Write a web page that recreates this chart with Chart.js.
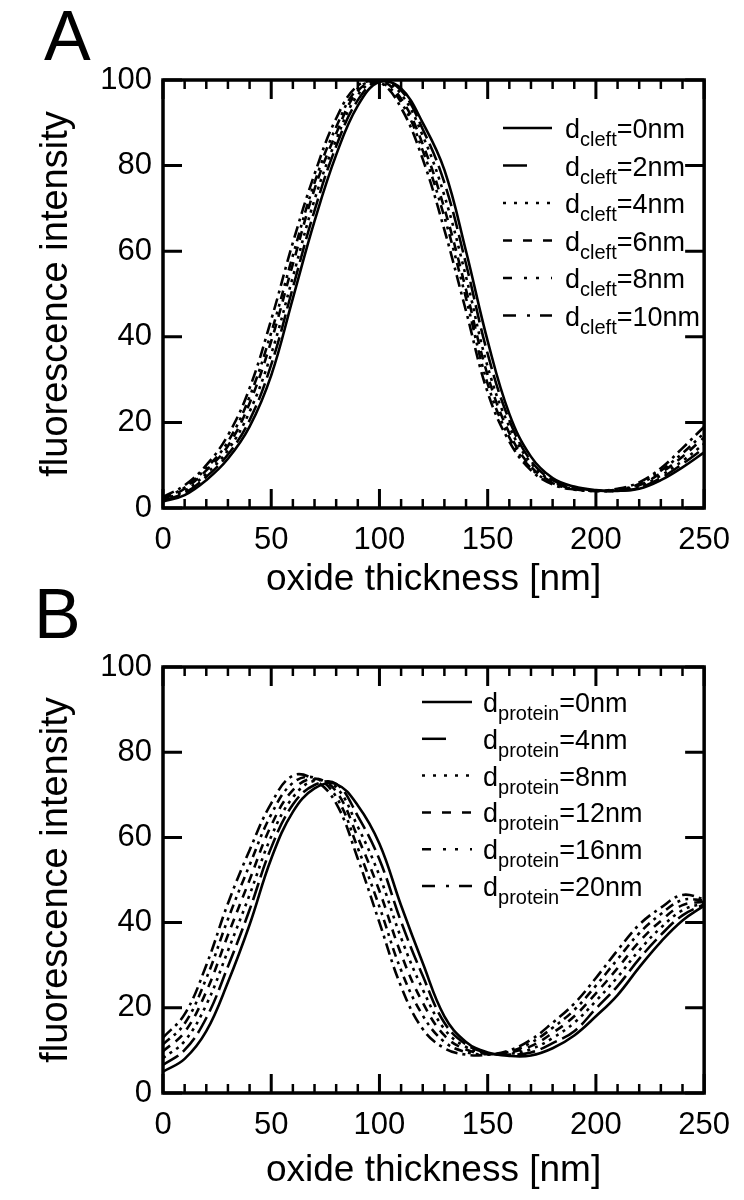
<!DOCTYPE html>
<html>
<head>
<meta charset="utf-8">
<script src="https://cdn.jsdelivr.net/npm/chart.js@4.4.1/dist/chart.umd.min.js"></script>
<style>
  body { margin: 0; background: #fff; }
  .panel { position: absolute; left: 0; width: 744px; }
</style>
</head>
<body>
<div class="panel" style="top:0;height:600px"><canvas id="chartA" width="744" height="600"></canvas></div>
<div class="panel" style="top:560px;height:640px"><canvas id="chartB" width="744" height="640"></canvas></div>
<script>
// oxide thickness [nm]
var thickness = [0,10,20,30,40,50,60,70,80,90,100,110,120,130,140,150,160,170,180,190,200,210,220,230,240,250];
var xTicks = [0,50,100,150,200,250];
var yTicks = [0,20,40,60,80,100];

// panel A, d_cleft
var cleftLabels = ['0nm','2nm','4nm','6nm','8nm','10nm'];
var cleft0  = [1.5,3,6.5,11.5,19,31,49,67,82.5,94,99.6,98,90,79,60,39,22,12,7,5,4.2,4,4.5,6.5,9.5,13];
var cleft2  = [1.7,3.5,7.3,12.5,20.5,33.5,51.5,69.5,84.5,95.3,99.9,97.6,88.5,76,57,36,20.5,11,6.5,4.8,4.1,4,4.7,7,10.3,14];
var cleft4  = [1.9,4,8,13.5,22.5,36,54,72,86,96.5,100,96.7,87,73,54,33,19,10.5,6.2,4.6,4,4.1,5,7.6,11,15];
var cleft6  = [2.1,4.5,8.8,14.5,24.5,39,57,74.5,87.5,97.4,99.9,95.6,85,70,51,31,17.5,9.7,6,4.5,4,4.2,5.3,8.2,12,16.5];
var cleft8  = [2.3,4.8,9.3,15.5,26,41,59,76,89,98,99.5,94.8,83.5,68,49,29,16.5,9.3,5.8,4.4,4,4.3,5.6,8.7,12.8,17.5];
var cleft10 = [2.6,5.3,10,17,28,44,62,78,91,98.7,99.5,93.5,81.5,65,46,27,15.5,8.8,5.5,4.3,4,4.5,6,9.3,14,19];

// panel B, d_protein
var proteinLabels = ['0nm','4nm','8nm','12nm','16nm','20nm'];
var protein0  = [5,8,14.5,26,39.5,55,66,71.5,72.5,67.5,58.5,44,30.5,18,12,9.5,8.7,8.8,10.5,13.5,18,23,29.5,35.5,40.5,44];
var protein4  = [6.6,10.1,17.6,29.7,43,57.6,67.7,72.3,72.6,65,54.8,40.2,27.5,16.5,11.4,9.4,9,9.5,11.7,14.5,19.8,25.1,31.5,37.1,41.7,44.3];
var protein8  = [8.2,12.2,20.7,33.4,46.5,60.2,69.4,73.3,71.8,62.5,51,36.4,24.3,15,10.8,9.3,9.2,10.3,12.9,16.5,21.6,27.2,33.5,38.8,42.9,44.6];
var protein12 = [9.8,14.3,23.8,37.1,50,62.8,71.1,73.8,70.8,60,47.4,32.6,21.2,13.5,10.2,9.2,9.5,11,14.1,18,23.4,29.3,35.5,40.4,44.1,44.9];
var protein16 = [11.4,16.3,26.9,40.8,53.5,65.4,72.8,74,69.5,57.5,43.7,28.8,18.2,12,9.6,9.1,9.7,11.8,15.3,19.5,25.2,31.4,37.5,42,45.3,45.2];
var protein20 = [13,18.5,30,44.5,57,68,74.5,73.5,68,55,40,25,15,10.5,9,9,10,12.5,16.5,21,27,33.5,39.5,43.5,46.5,45.5];

// line styles, same order for both panels
var dashes = [[], [18,6], [3,5], [9,7], [9,5,3,5,3,5], [12,5,3,5]];
var legendDashes = [[], [24,40], [3,8], [9,11], [9,12,3,9,3,12], [13,11,3,10]];

var FONT = "'Liberation Sans', Arial, Helvetica, sans-serif";

// inward ticks, frame, panel letter
var framePlugin = {
  id: 'frame',
  afterDatasetsDraw: function(chart, args, opts) {
    var ctx = chart.ctx;
    var a = chart.chartArea;
    var xs = chart.scales.x, ys = chart.scales.y;
    ctx.save();
    ctx.strokeStyle = '#000';
    ctx.lineCap = 'butt';
    for (var v = 0; v <= 250; v += 10) {
      var px = xs.getPixelForValue(v);
      var len = v % 50 === 0 ? 19 : 9;
      ctx.lineWidth = v % 50 === 0 ? 3 : 2.5;
      ctx.beginPath();
      ctx.moveTo(px, a.bottom); ctx.lineTo(px, a.bottom - len);
      ctx.moveTo(px, a.top); ctx.lineTo(px, a.top + len);
      ctx.stroke();
    }
    ctx.lineWidth = 3;
    yTicks.forEach(function(t) {
      var py = ys.getPixelForValue(t);
      ctx.beginPath();
      ctx.moveTo(a.left, py); ctx.lineTo(a.left + 19, py);
      ctx.moveTo(a.right, py); ctx.lineTo(a.right - 19, py);
      ctx.stroke();
    });
    ctx.lineWidth = 3.5;
    ctx.strokeRect(a.left, a.top, a.right - a.left, a.bottom - a.top);
    ctx.fillStyle = '#000';
    ctx.font = '70px ' + FONT;
    ctx.textBaseline = 'alphabetic';
    ctx.fillText(opts.letter, opts.letterX, opts.letterY);
    ctx.restore();
  }
};

// legend with subscripts
var subLegend = {
  id: 'subLegend',
  afterDatasetsDraw: function(chart, args, opts) {
    var ctx = chart.ctx;
    ctx.save();
    ctx.fillStyle = '#000';
    ctx.strokeStyle = '#000';
    chart.data.datasets.forEach(function(ds, i) {
      var y = opts.top + i * opts.step;
      ctx.lineWidth = 2.5;
      ctx.setLineDash(legendDashes[i]);
      ctx.beginPath();
      ctx.moveTo(opts.lineX0, y); ctx.lineTo(opts.lineX1, y);
      ctx.stroke();
      ctx.setLineDash([]);
      var x = opts.textX;
      ctx.textBaseline = 'alphabetic';
      ctx.font = '27px ' + FONT;
      ctx.fillText('d', x, y + 10);
      x += ctx.measureText('d').width;
      ctx.font = '20px ' + FONT;
      ctx.fillText(opts.sub, x, y + 18);
      x += ctx.measureText(opts.sub).width;
      ctx.font = '27px ' + FONT;
      ctx.fillText('=' + ds.label, x, y + 10);
    });
    ctx.restore();
  }
};

function makeChart(id, labels, series, p) {
  var datasets = series.map(function(arr, i) {
    return {
      label: labels[i],
      data: thickness.map(function(x, j) { return {x: x, y: arr[j]}; }),
      borderColor: '#000',
      borderWidth: 2.6,
      borderDash: dashes[i],
      pointRadius: 0,
      fill: false,
      tension: 0.4
    };
  });
  return new Chart(document.getElementById(id), {
    type: 'line',
    data: { datasets: datasets },
    plugins: [framePlugin, subLegend],
    options: {
      responsive: false,
      animation: false,
      events: [],
      layout: { padding: { top: p.top, right: p.right, bottom: 0, left: 0 } },
      scales: {
        x: {
          type: 'linear', min: 0, max: 250,
          afterFit: function(s) { s.height = p.xHeight; },
          afterBuildTicks: function(s) { s.ticks = xTicks.map(function(v) { return {value: v}; }); },
          grid: { display: false, drawTicks: false },
          border: { display: false },
          ticks: { color: '#000', padding: 14, font: { family: FONT, size: 31 } },
          title: { display: true, text: 'oxide thickness [nm]', color: '#000',
                   font: { family: FONT, size: 37, lineHeight: 1 }, padding: { top: 0, bottom: p.titlePad } }
        },
        y: {
          min: 0, max: 100,
          afterFit: function(s) { s.width = 163; },
          afterBuildTicks: function(s) { s.ticks = yTicks.map(function(v) { return {value: v}; }); },
          grid: { display: false, drawTicks: false },
          border: { display: false },
          ticks: { color: '#000', padding: 11, font: { family: FONT, size: 31 } },
          title: { display: true, text: 'fluorescence intensity', color: '#000',
                   font: { family: FONT, size: 38, lineHeight: 1 }, padding: { top: 38, bottom: 0 } }
        }
      },
      plugins: {
        legend: { display: false },
        tooltip: { enabled: false },
        frame: { letter: p.letter, letterX: p.letterX, letterY: p.letterY },
        subLegend: p.legend
      }
    }
  });
}

makeChart('chartA', cleftLabels, [cleft0, cleft2, cleft4, cleft6, cleft8, cleft10], {
  top: 80, right: 37, xHeight: 92, titlePad: 2,
  letter: 'A', letterX: 44, letterY: 60,
  legend: { sub: 'cleft', top: 128, step: 37.5, lineX0: 503, lineX1: 552, textX: 565 }
});

makeChart('chartB', proteinLabels, [protein0, protein4, protein8, protein12, protein16, protein20], {
  top: 107, right: 38, xHeight: 107, titlePad: 11,
  letter: 'B', letterX: 34, letterY: 78,
  legend: { sub: 'protein', top: 142, step: 36.8, lineX0: 422, lineX1: 472, textX: 483 }
});
</script>
</body>
</html>
